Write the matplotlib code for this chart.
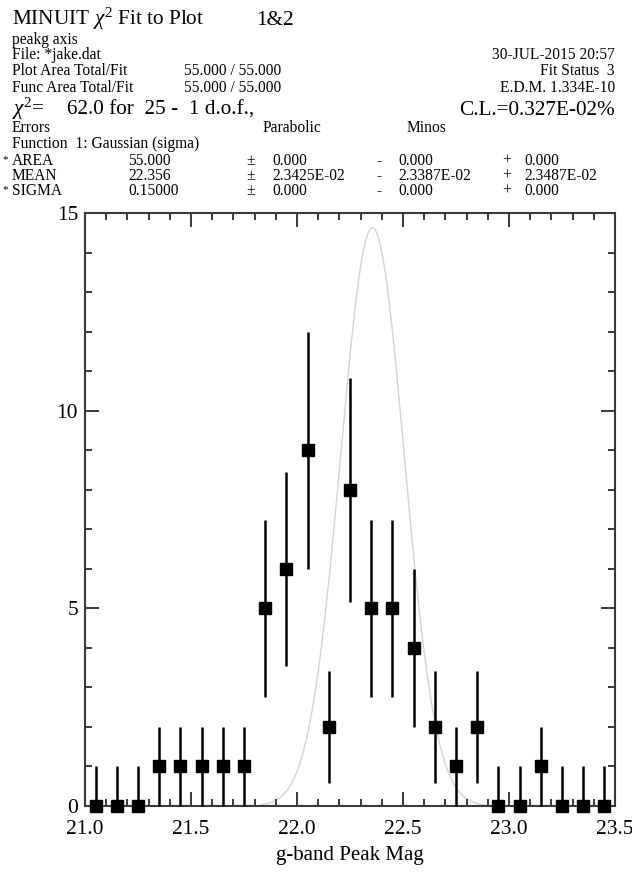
import numpy as np
import matplotlib
matplotlib.use('Agg')
import matplotlib.pyplot as plt
from matplotlib.ticker import MultipleLocator

# histogram (0.1 mag bins)
bin_centres = [21.05, 21.15, 21.25, 21.35, 21.45, 21.55, 21.65, 21.75, 21.85, 21.95,
               22.05, 22.15, 22.25, 22.35, 22.45, 22.55, 22.65, 22.75, 22.85, 22.95,
               23.05, 23.15, 23.25, 23.35, 23.45]
counts = [0, 0, 0, 1, 1, 1, 1, 1, 5, 6, 9, 2, 8, 5, 5, 4, 2, 1, 2, 0, 0, 1, 0, 0, 0]
err_low = [0, 0, 0, 1, 1, 1, 1, 1, 2.24, 2.45, 3.0, 1.41, 2.83, 2.24, 2.24, 2.0,
           1.41, 1, 1.41, 0, 0, 1, 0, 0, 0]
err_high = [1, 1, 1, 1, 1, 1, 1, 1, 2.24, 2.45, 3.0, 1.41, 2.83, 2.24, 2.24, 2.0,
            1.41, 1, 1.41, 1, 1, 1, 1, 1, 1]

# fit parameters as printed in the header
fit_area = 55.0
fit_mean = 22.356
fit_sigma = 0.15
bin_width = 0.1

x_ticks = [21.0, 21.5, 22.0, 22.5, 23.0, 23.5]
y_ticks = [0, 5, 10, 15]

W, H = 632, 877
SMALL = 11.2
BIG = 15.3

plt.rcParams['font.family'] = ['Liberation Serif', 'DejaVu Serif']
plt.rcParams['mathtext.fontset'] = 'custom'
plt.rcParams['mathtext.rm'] = 'Liberation Serif'
plt.rcParams['mathtext.it'] = 'Liberation Serif:italic'

fig = plt.figure(figsize=(W / 100, H / 100), dpi=100)

# axes box in pixels: left 85, right 615, top 213, bottom 806
ax = fig.add_axes([85 / W, (H - 806) / H, (615 - 85) / W, (806 - 213) / H])


def header(x, y, s, size=SMALL, ha='left'):
    fig.text(x / W, 1 - y / H, s, fontsize=size, ha=ha, va='baseline', color='black')


header(12, 25, r'MINUIT $\chi^2$ Fit to Plot', size=BIG)
header(256, 25, '1&2', size=BIG)
header(12, 44, 'peakg axis')
header(12, 59, 'File: *jake.dat')
header(615, 59, '30-JUL-2015 20:57', ha='right')
header(12, 75, 'Plot Area Total/Fit')
header(184, 75, '55.000 / 55.000')
header(615, 75, 'Fit Status  3', ha='right')
header(12, 92, 'Func Area Total/Fit')
header(184, 92, '55.000 / 55.000')
header(615, 92, 'E.D.M. 1.334E-10', ha='right')
header(12, 115, r'$\chi^2$=', size=BIG)
header(67, 115, '62.0 for  25 -  1 d.o.f.,', size=BIG)
header(615, 115, 'C.L.=0.327E-02%', size=BIG, ha='right')
header(12, 132, 'Errors')
header(263, 132, 'Parabolic')
header(407, 132, 'Minos')
header(12, 148, 'Function  1: Gaussian (sigma)')

rows = [('*', 'AREA', '55.000', '0.000', '0.000', '0.000'),
        ('', 'MEAN', '22.356', '2.3425E-02', '2.3387E-02', '2.3487E-02'),
        ('*', 'SIGMA', '0.15000', '0.000', '0.000', '0.000')]
for i, (star, name, val, para, minus, plus) in enumerate(rows):
    y = 165 + 15 * i
    if star:
        header(2, y - 3, star, size=8)
    header(12, y, name)
    header(128, y, val)
    header(246, y, '±')
    header(272, y, para)
    header(376, y, '-')
    header(398, y, minus)
    header(502, y, '+')
    header(524, y, plus)

# fitted gaussian, drawn over about +/- 3.5 sigma
gx = np.linspace(fit_mean - 3.5 * fit_sigma, fit_mean + 3.5 * fit_sigma, 300)
gy = fit_area * bin_width / (fit_sigma * np.sqrt(2 * np.pi)) * np.exp(-0.5 * ((gx - fit_mean) / fit_sigma) ** 2)
ax.plot(gx, gy, color='#d4d4d4', lw=1.0, zorder=1)

ax.errorbar(bin_centres, counts, yerr=[err_low, err_high], fmt='s', color='black',
            ms=9, elinewidth=1.8, capsize=0, clip_on=False, zorder=3)

ax.set_xlim(21.0, 23.5)
ax.set_ylim(0, 15)
ax.set_xticks(x_ticks)
ax.set_xticklabels([f'{t:.1f}' for t in x_ticks])
ax.set_yticks(y_ticks)
ax.xaxis.set_minor_locator(MultipleLocator(0.1))
ax.yaxis.set_minor_locator(MultipleLocator(1))

for s in ax.spines.values():
    s.set_color('#3a3a3a')
    s.set_linewidth(1.5)
ax.tick_params(which='both', direction='in', top=True, right=True, color='#3a3a3a',
               width=1.4, labelsize=15.5)
ax.tick_params(which='major', length=10)
ax.tick_params(which='minor', length=5)
ax.tick_params(axis='x', pad=10)
ax.tick_params(axis='y', pad=5)

ax.set_xlabel('g-band Peak Mag', fontsize=15, labelpad=5)

fig.savefig('out.png', dpi=100)
